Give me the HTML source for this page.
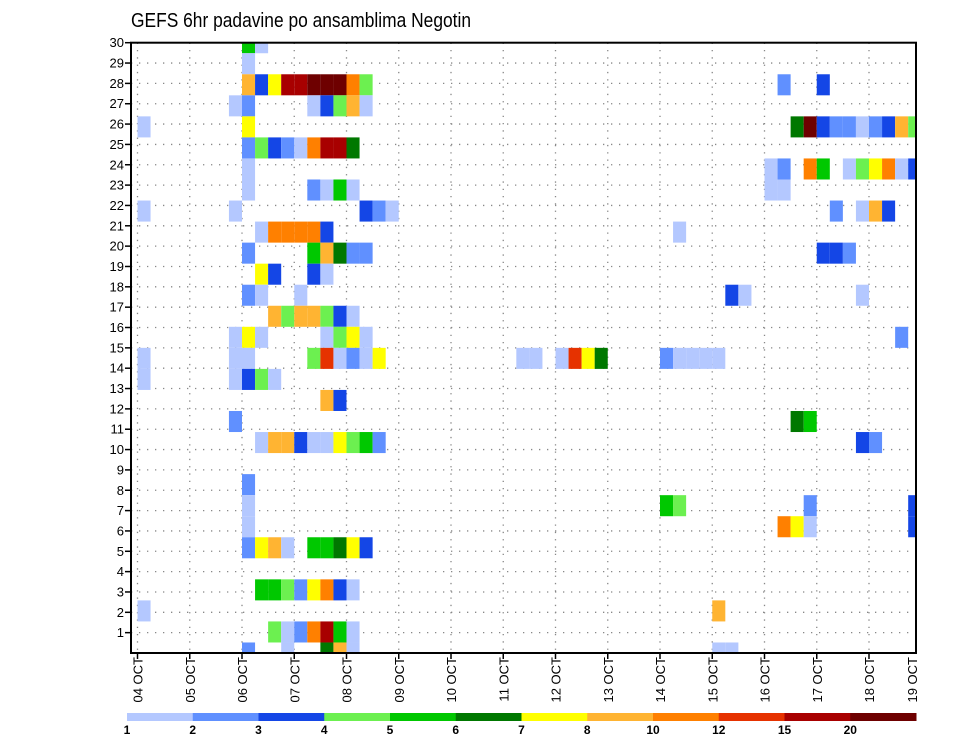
<!DOCTYPE html>
<html><head><meta charset="utf-8"><style>
html,body{margin:0;padding:0;background:#fff;}
svg{display:block;font-family:"Liberation Sans",sans-serif;}
</style></head><body>
<svg id="chart" width="960" height="742" viewBox="0 0 960 742" xmlns="http://www.w3.org/2000/svg">
<text x="131" y="27" font-size="20" fill="#000" textLength="340" lengthAdjust="spacingAndGlyphs">GEFS 6hr padavine po ansamblima Negotin</text>
<g id="grid"></g><g id="cells"></g><g id="axes"></g><g id="legend"></g>
</svg>
<script>
// legend bins (lower bound of each class) and colours
const levels = [1,2,3,4,5,6,7,8,10,12,15,20];
const levelColors = ["#b4c8ff","#6090ff","#1446e6","#6cf050","#00c800","#007800","#ffff00","#ffb432","#ff8000","#e63200","#a80000","#6e0000"];
const dayLabels = ["04 OCT","05 OCT","06 OCT","07 OCT","08 OCT","09 OCT","10 OCT","11 OCT","12 OCT","13 OCT","14 OCT","15 OCT","16 OCT","17 OCT","18 OCT","19 OCT"];
const memberTicks = [1,2,3,4,5,6,7,8,9,10,11,12,13,14,15,16,17,18,19,20,21,22,23,24,25,26,27,28,29,30];
// per ensemble member (top to bottom): "step:value" tokens, step = 6h index from 04 OCT 00Z
const members = [
"8:5 9:1",
"8:1",
"8:8 9:3 10:7 11:15 12:15 13:20 14:20 15:20 16:10 17:4 49:2 52:3",
"7:1 8:2 13:1 14:3 15:4 16:8 17:1",
"0:1 8:7 50:6 51:20 52:3 53:2 54:2 55:1 56:2 57:3 58:8 59:4",
"8:2 9:4 10:3 11:2 12:1 13:10 14:15 15:15 16:6",
"8:1 48:1 49:2 51:10 52:5 54:1 55:4 56:7 57:10 58:1 59:3",
"8:1 13:2 14:1 15:5 16:1 48:1 49:1",
"0:1 7:1 17:3 18:2 19:1 53:2 55:1 56:8 57:3",
"9:1 10:10 11:10 12:10 13:10 14:3 41:1",
"8:2 13:5 14:8 15:6 16:2 17:2 52:3 53:3 54:2",
"9:7 10:3 13:3 14:1",
"8:2 9:1 12:1 45:3 46:1 55:1",
"10:8 11:4 12:8 13:8 14:4 15:3 16:1",
"7:1 8:7 9:1 14:1 15:4 16:7 17:1 58:2",
"0:1 7:1 8:1 13:4 14:12 15:1 16:2 17:1 18:7 29:1 30:1 32:1 33:12 34:7 35:6 40:2 41:1 42:1 43:1 44:1",
"0:1 7:1 8:3 9:4 10:1",
"14:8 15:3",
"7:2 50:6 51:5",
"9:1 10:8 11:8 12:3 13:1 14:1 15:7 16:4 17:5 18:2 55:3 56:2",
"",
"8:2",
"8:1 40:5 41:4 51:2 59:3",
"8:1 49:10 50:7 51:1 59:3",
"8:2 9:7 10:8 11:1 13:5 14:5 15:6 16:7 17:3",
"",
"9:5 10:5 11:4 12:2 13:7 14:10 15:3 16:1",
"0:1 44:8",
"10:4 11:1 12:2 13:10 14:15 15:5 16:1",
"8:2 11:1 14:6 15:8 16:1 44:1 45:1"
];

const NS="http://www.w3.org/2000/svg";
const L=131,R=916,T=42.7,B=653;
const X0=137.5, DAY=52.25;
function xDay(d){return X0+d*DAY;}
function xStep(s){return X0+s*DAY/4;}
function yVal(v){return B-(B-T)*v/30;}
function memberVal(m){return 30-m*30/(members.length-1);}
function mk(tag,attrs,parent){const e=document.createElementNS(NS,tag);for(const k in attrs)e.setAttribute(k,attrs[k]);parent.appendChild(e);return e;}
const grid=document.getElementById('grid'),cells=document.getElementById('cells'),axes=document.getElementById('axes'),legend=document.getElementById('legend');

const defs=mk('defs',{},document.getElementById('chart'));
const cp=mk('clipPath',{id:'pc'},defs);
mk('rect',{x:L,y:T,width:R-L,height:B-T},cp);
cells.setAttribute('clip-path','url(#pc)');

for(let v=0;v<=30;v++){
  const l=mk('line',{x1:L,x2:R,y1:yVal(v),y2:yVal(v),stroke:'#888','stroke-width':1.3,'stroke-dasharray':'1.3,6.7'},grid);
  
  
}
for(let d=0;d<dayLabels.length;d++){
  const x=xDay(d); if(x>R) continue;
  const l=mk('line',{x1:x,x2:x,y1:T,y2:B,stroke:'#888','stroke-width':1.3,'stroke-dasharray':'1.3,6'},grid);
  
  
}

const bandH=(B-T)/(members.length-1);
members.forEach((row,m)=>{
  if(!row) return;
  row.split(' ').forEach(tok=>{
    const [s,v]=tok.split(':').map(Number);
    const li=levels.indexOf(v);
    const yc=yVal(memberVal(m));
    const r=mk('rect',{x:xStep(s),y:yc-bandH/2,width:DAY/4,height:bandH,fill:levelColors[li]},cells);
    
    
  });
});

const fr=mk('rect',{x:L,y:T,width:R-L,height:B-T,fill:'none',stroke:'#000','stroke-width':2},axes);


memberTicks.forEach(v=>{
  const y=yVal(v);
  mk('line',{x1:L-6,x2:L,y1:y,y2:y,stroke:'#000','stroke-width':1.5},axes);
  const t=mk('text',{x:L-7,y:y+4.5,'font-size':13,'text-anchor':'end',fill:'#000'},axes);
  t.textContent=v;
  
  
});
dayLabels.forEach((lab,d)=>{
  const x=xDay(d);
  if(x<=R+1) mk('line',{x1:x,x2:x,y1:B,y2:B+6,stroke:'#000','stroke-width':1.5},axes);
  const xx=Math.min(x,912);
  const t=mk('text',{x:0,y:0,'font-size':13,'text-anchor':'end',fill:'#000',transform:`translate(${xx+5},${B+4}) rotate(-90)`},axes);
  t.textContent=lab;
  
  
});

const LX0=127,LX1=916,LW=(LX1-LX0)/levels.length;
levels.forEach((v,i)=>{
  const r=mk('rect',{x:LX0+i*LW,y:713,width:LW+0.5,height:8,fill:levelColors[i]},legend);
  
  
  const t=mk('text',{x:LX0+i*LW,y:734,'font-size':12,'font-weight':'bold','text-anchor':'middle',fill:'#000'},legend);
  t.textContent=v;
  
  
});
</script>
</body></html>
